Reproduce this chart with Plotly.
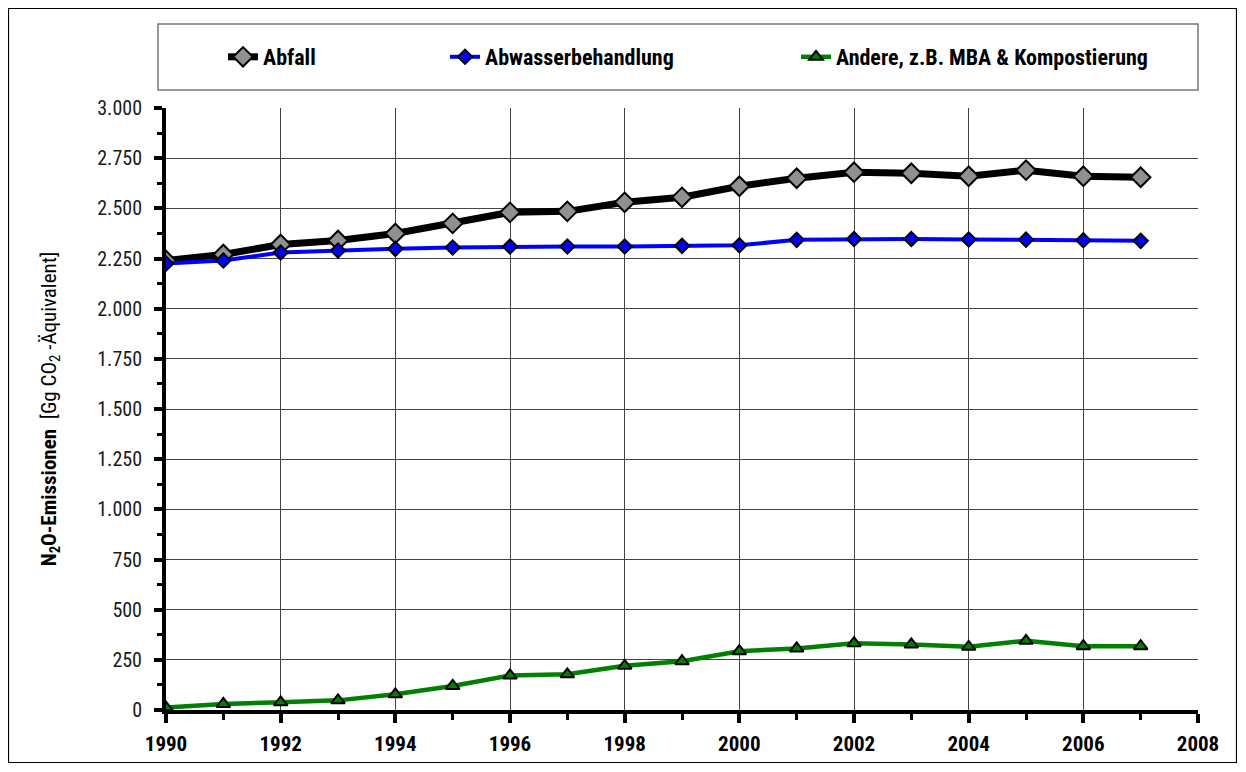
import plotly.graph_objects as go

years = list(range(1990, 2008))
abfall = [2240, 2270, 2320, 2340, 2375, 2425, 2480, 2485, 2530, 2555, 2610, 2650, 2680, 2675, 2660, 2690, 2660, 2655]
abwasser = [2225, 2240, 2280, 2290, 2298, 2305, 2310, 2310, 2310, 2313, 2316, 2343, 2347, 2347, 2345, 2344, 2341, 2338]
andere = [12, 30, 38, 48, 78, 120, 172, 178, 220, 243, 293, 307, 333, 327, 315, 345, 318, 318]

names = ["Abfall", "Abwasserbehandlung", "Andere, z.B. MBA & Kompostierung"]

x_ticks = list(range(1990, 2009, 2))
x_minor = list(range(1991, 2009, 2))
y_ticks = list(range(0, 3001, 250))
y_ticktext = ["0", "250", "500", "750", "1.000", "1.250", "1.500", "1.750", "2.000", "2.250", "2.500", "2.750", "3.000"]
y_minor = list(range(125, 3000, 250))

FONT = "Roboto Condensed, DejaVu Sans Condensed, Liberation Sans Narrow, sans-serif"

OFF = 8  # page offset of the figure (body margin)
W, H = 1229, 755
# plot area in page pixels
PL, PR, PT, PB = 166, 1198, 108, 710
L, R, T, B = PL - OFF, W - (PR - OFF), PT - OFF, H - (PB - OFF)
PW, PH = PR - PL, PB - PT

def px_x(p):  # page pixel -> paper x
    return (p - PL) / PW

def px_y(p):  # page pixel -> paper y
    return (PB - p) / PH

fig = go.Figure()
fig.add_trace(go.Scatter(
    x=years, y=abfall, name=names[0], mode="lines+markers",
    line=dict(color="black", width=7),
    marker=dict(symbol="diamond", size=15, color="#909090", line=dict(color="black", width=2)),
    legend="legend"))
fig.add_trace(go.Scatter(
    x=years, y=abwasser, name=names[1], mode="lines+markers",
    line=dict(color="#0000FF", width=4),
    marker=dict(symbol="diamond", size=11, color="#0000FF", line=dict(color="black", width=2)),
    legend="legend2"))
fig.add_trace(go.Scatter(
    x=years, y=andere, name=names[2], mode="lines+markers",
    line=dict(color="#008000", width=4.5),
    marker=dict(symbol="triangle-up", size=12, color="#008000", line=dict(color="black", width=2)),
    legend="legend3"))

legend_common = dict(orientation="h", yanchor="middle", y=px_y(57), xanchor="left",
                     bgcolor="rgba(0,0,0,0)", borderwidth=0,
                     font=dict(family=FONT, size=22, color="black", weight="bold"))

fig.update_layout(
    width=W, height=H,
    margin=dict(l=L, r=R, t=T, b=B, autoexpand=False),
    paper_bgcolor="white", plot_bgcolor="white",
    font=dict(family=FONT, size=20, color="black"),
    legend=dict(x=px_x(223), **legend_common),
    legend2=dict(x=px_x(445), **legend_common),
    legend3=dict(x=px_x(796), **legend_common),
    xaxis=dict(
        range=[1990, 2008], tickvals=x_ticks, ticktext=[str(v) for v in x_ticks],
        showgrid=True, gridcolor="#444444", gridwidth=1,
        showline=True, linecolor="black", linewidth=4,
        ticks="outside", ticklen=9, tickwidth=4, tickcolor="black",
        minor=dict(tickvals=x_minor, ticks="outside", ticklen=6, tickwidth=3, tickcolor="black", showgrid=False),
        tickfont=dict(family=FONT, size=21, color="black", weight="bold"),
        ticklabelstandoff=3,
        zeroline=False, fixedrange=True),
    xaxis2=dict(
        range=[1990, 2008], overlaying="x", anchor="y", side="bottom",
        tickvals=x_ticks, showticklabels=False, showgrid=False, showline=False,
        ticks="inside", ticklen=8, tickwidth=4, tickcolor="black", zeroline=False),
    yaxis=dict(
        range=[0, 3000], tickvals=y_ticks, ticktext=y_ticktext,
        showgrid=True, gridcolor="#444444", gridwidth=1,
        showline=True, linecolor="black", linewidth=4,
        ticks="outside", ticklen=8, tickwidth=4, tickcolor="black",
        minor=dict(tickvals=y_minor, ticks="outside", ticklen=5, tickwidth=3, tickcolor="black", showgrid=False),
        tickfont=dict(family=FONT, size=20, color="#1a1a1a"),
        ticklabelstandoff=8,
        title=dict(text="<b>N<sub>2</sub>O-Emissionen</b>  [Gg CO<sub>2</sub> -Äquivalent]",
                   font=dict(family=FONT, size=21, color="black"), standoff=36),
        zeroline=False, fixedrange=True),
    yaxis2=dict(
        range=[0, 3000], overlaying="y", anchor="x", side="left",
        tickvals=y_ticks, showticklabels=False, showgrid=False, showline=False,
        ticks="inside", ticklen=7, tickwidth=4, tickcolor="black", zeroline=False),
    shapes=[
        dict(type="rect", xref="paper", yref="paper",
             x0=px_x(8.5), x1=px_x(1236.5), y0=px_y(762.5), y1=px_y(8.5),
             line=dict(color="black", width=1.2), fillcolor="rgba(0,0,0,0)", layer="below"),
        dict(type="rect", xref="paper", yref="paper",
             x0=px_x(158), x1=px_x(1198), y0=px_y(90), y1=px_y(24),
             line=dict(color="#777777", width=1.5), fillcolor="rgba(0,0,0,0)", layer="below"),
    ],
    showlegend=True,
)

fig.write_html("out.html")
